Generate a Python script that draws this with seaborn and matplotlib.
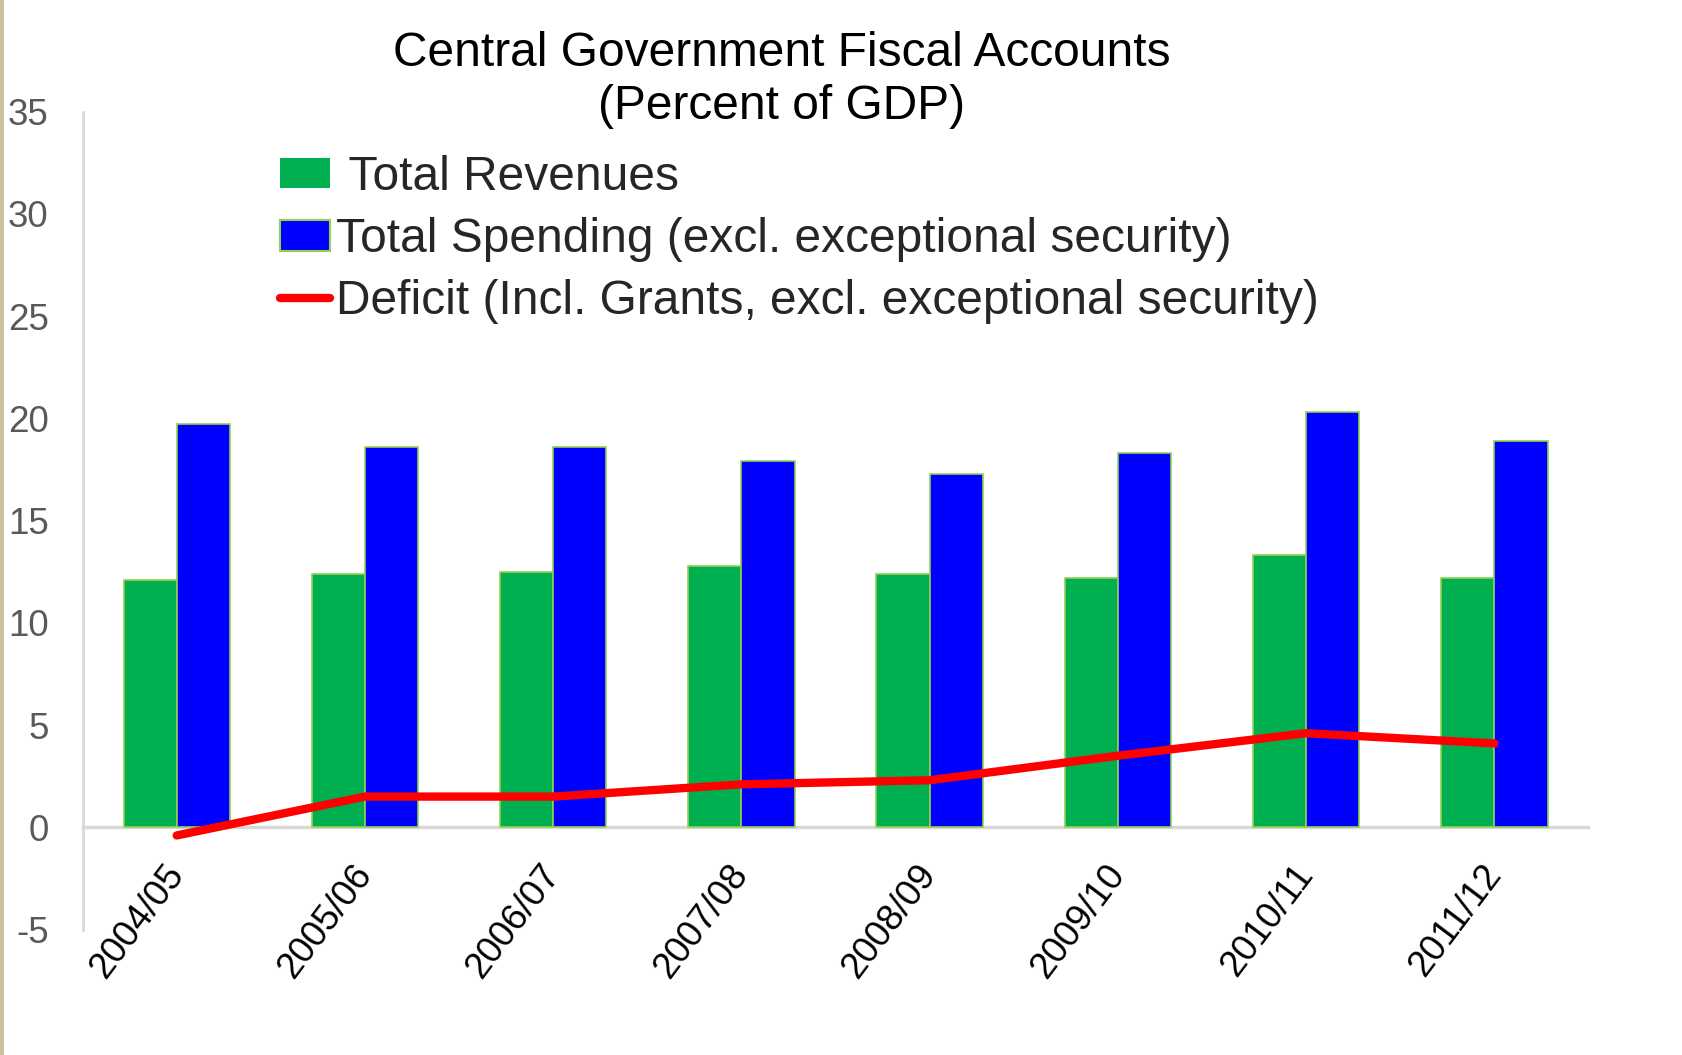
import numpy as np
import pandas as pd
import matplotlib
matplotlib.use("Agg")
import matplotlib.pyplot as plt
from matplotlib.patches import Patch, Rectangle
from matplotlib.lines import Line2D
from matplotlib.transforms import ScaledTranslation
import seaborn as sns

# Fiscal years and series (percent of GDP)
years = ["2004/05", "2005/06", "2006/07", "2007/08",
         "2008/09", "2009/10", "2010/11", "2011/12"]
revenues = [12.1, 12.4, 12.5, 12.8, 12.4, 12.2, 13.3, 12.2]
spending = [19.7, 18.6, 18.6, 17.9, 17.3, 18.3, 20.3, 18.9]
deficit = [-0.4, 1.5, 1.5, 2.1, 2.3, 3.5, 4.6, 4.1]

rev_label = "Total Revenues"
spend_label = "Total Spending (excl. exceptional security)"
def_label = "Deficit (Incl. Grants, excl. exceptional security)"
y_ticks = [-5, 0, 5, 10, 15, 20, 25, 30, 35]

GREEN = "#00B050"
BLUE = "#0000FF"
RED = "#FF0000"
EDGE = "#92D050"

sns.set_theme(style="white")
plt.rcParams["font.family"] = ["Liberation Sans", "DejaVu Sans"]

W, H = 1683, 1055
fig = plt.figure(figsize=(W / 100, H / 100), dpi=100)
ax = fig.add_axes([82.6 / W, 1 - 929.5 / H, (1588.5 - 82.6) / W, (929.5 - 111.6) / H])

bars = pd.DataFrame({
    "year": years * 2,
    "series": [rev_label] * len(years) + [spend_label] * len(years),
    "value": revenues + spending,
})

sns.barplot(data=bars, x="year", y="value", hue="series", order=years,
            hue_order=[rev_label, spend_label],
            palette={rev_label: GREEN, spend_label: BLUE}, saturation=1,
            width=0.565, gap=0, edgecolor=EDGE, linewidth=1.2,
            errorbar=None, legend=False, ax=ax)

sns.lineplot(x=np.arange(len(years)), y=deficit, color=RED, linewidth=6,
             solid_capstyle="round", solid_joinstyle="miter", sort=False, ax=ax)

ax.set_xlim(-0.5, len(years) - 0.5)
ax.set_ylim(-5, 35)
ax.set_yticks(y_ticks)
ax.set_yticklabels([str(t) for t in y_ticks])
ax.set_xticks(np.arange(len(years)))
ax.set_xticklabels(years)
ax.set_xlabel("")
ax.set_ylabel("")

for side in ("top", "right"):
    ax.spines[side].set_visible(False)
ax.spines["left"].set_color("#D9D9D9")
ax.spines["left"].set_linewidth(2)
ax.spines["bottom"].set_position(("data", 0))
ax.spines["bottom"].set_color("#D9D9D9")
ax.spines["bottom"].set_linewidth(2.5)
ax.spines["bottom"].set_zorder(0.5)

ax.tick_params(axis="y", length=0, pad=24.5, labelsize=26.5, labelcolor="#595959")
ax.tick_params(axis="x", length=0, pad=30, labelsize=26.5, labelcolor="black")
shift = ScaledTranslation(0 / 100, 0, fig.dpi_scale_trans)
for lbl in ax.get_xticklabels():
    lbl.set_rotation(53)
    lbl.set_ha("right")
    lbl.set_va("center")
    lbl.set_rotation_mode("anchor")
    lbl.set_transform(lbl.get_transform() + shift)

handles = [
    Patch(facecolor=GREEN, edgecolor="none"),
    Patch(facecolor=BLUE, edgecolor=EDGE, linewidth=1.5),
    Line2D([0], [0], color=RED, linewidth=6, solid_capstyle="round"),
]
fig.legend(handles, [" " + rev_label, spend_label, def_label],
           loc="upper left", bbox_to_anchor=(280 / W, 1 - 155 / H),
           frameon=False, fontsize=34.5, handlelength=1.05, handleheight=0.6,
           handletextpad=0.12, labelspacing=0.36, borderpad=0, borderaxespad=0)

fig.text(781.5 / W, 1 - 80 / H,
         "Central Government Fiscal Accounts\n(Percent of GDP)",
         ha="center", va="center", fontsize=34.5, color="black", linespacing=1.24)

# thin tan rule along the left edge of the figure
fig.patches.append(Rectangle((0, 0), 4 / W, 1, transform=fig.transFigure,
                             facecolor="#CDBF9C", edgecolor="none", zorder=0))

fig.savefig("out.png", dpi=100)
